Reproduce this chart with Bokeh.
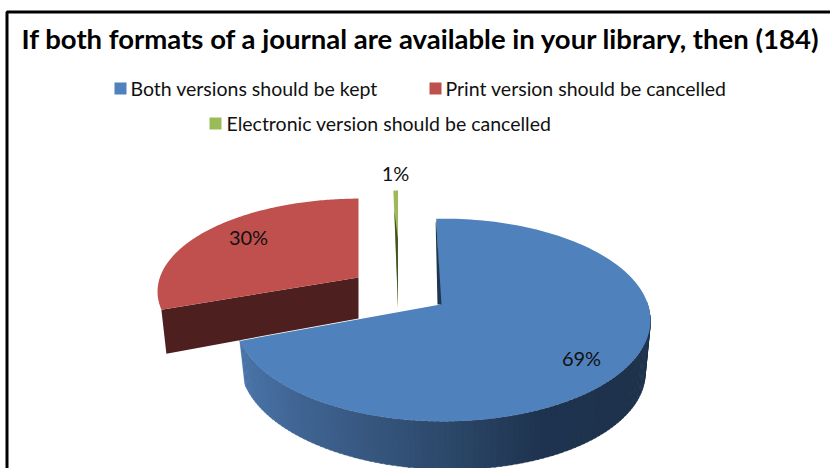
import numpy as np
from bokeh.plotting import figure
from bokeh.models import Range1d
from bokeh.core.properties import value
from bokeh.embed import file_html
from bokeh.resources import INLINE

# ---- data ----
title = "If both formats of a journal are available in your library, then (184)"
categories = ["Both versions should be kept", "Print version should be cancelled", "Electronic version should be cancelled"]
shares = [69, 30, 1]
top_colors = ["#4F81BD", "#C0504D", "#9BBB59"]
side_colors = ["#1F3550", "#4D1F1E", "#3F4F22"]

FONT = value("Lato")
k = 0.153

def project(theta, cx, cy, f, g):
    u, v = np.sin(theta), np.cos(theta)
    d = 1 + k * v - 0.012 * u
    return cx + f * u / d, cy - g * v / d

def arc(a0, a1, n=160):
    return np.radians(np.linspace(a0, a1, n))

p = figure(width=830, height=468, x_range=Range1d(0, 830), y_range=Range1d(468, 0),
           output_backend="svg", toolbar_location=None, min_border=0,
           x_axis_location=None, y_axis_location=None,
           outline_line_color=None, background_fill_color="white", border_fill_color="white")
p.grid.visible = False

# frame
p.line([6.5, 6.5, 830], [468, 11.5, 11.5], line_color="black", line_width=3)

# slice angles, clockwise from 12 o'clock
edges = np.cumsum([0] + shares) * 3.6

# ---- Blue: wall, inner sliver, top ----
bx, by, bf, bg = 440, 304, 205, 99
b0, b1 = edges[0] - 1.4, edges[1] + 1
steps = np.linspace(96, b1, 110)
stops_x = [240, 300, 443, 540, 650]
stops_r = [74, 64, 45, 31, 30]
stops_g = [116, 100, 73, 52, 50]
stops_b = [168, 146, 107, 80, 76]

def wall_pts(th):
    x_t, y_t = project(th, bx, by, bf, bg)
    x_b, y_b = project(th, bx, by + 48, bf * 0.975, bg)
    y_b = y_b + 4.5 * np.sin(th)
    return x_t, y_t, x_b, y_b

for a0, a1 in zip(steps[:-1], steps[1:]):
    th = arc(a0, a1 + 0.4, 5)
    x_t, y_t, x_b, y_b = wall_pts(th)
    xm = x_t.mean()
    col = "#%02x%02x%02x" % (int(np.interp(xm, stops_x, stops_r)), int(np.interp(xm, stops_x, stops_g)), int(np.interp(xm, stops_x, stops_b)))
    p.patch(np.r_[x_t, x_b[::-1]], np.r_[y_t, y_b[::-1]], fill_color=col, line_color=col, line_width=0.5)
th = arc(88, 97, 20)
x_t, y_t, x_b, y_b = wall_pts(th)
p.patch(np.r_[x_t, x_b[::-1]], np.r_[y_t, y_b[::-1]], fill_color=side_colors[0], line_color=None)

th = arc(b0, b1)
x, y = project(th, bx, by, bf, bg)
p.patch(np.r_[bx, x], np.r_[by, y], fill_color=top_colors[0], line_color=None)
x0, y0 = project(np.radians(b0), bx, by, bf, bg)
p.patch([x0, bx + 1, bx - 3, x0 - 0.5], [y0 + 2, by, by, y0 + 5], fill_color=side_colors[0], line_color=None)

# ---- Red ----
rx, ry, rf, rg = 358, 277, 201, 91
r0, r1 = edges[1] + 1.8, edges[2] + 3.6
th = arc(r0, r1)
x, y = project(th, rx, ry, rf, rg)
xl, yl = project(np.radians(r0), rx, ry, rf, rg)
p.patch([rx, xl, xl + 5, rx], [ry, yl, yl + 44, ry + 41], fill_color=side_colors[1], line_color=None)
p.patch(np.r_[rx, x], np.r_[ry, y], fill_color=top_colors[1], line_color=None)

# ---- Green ----
gx, gy, gf, gg = 397.5, 307, 85, 135
th = arc(edges[2], edges[3], 10)
x, y = project(th, gx, gy, gf, gg)
p.patch(np.r_[gx, x], np.r_[gy, y], fill_color=top_colors[2], line_color=None)
p.patch([gx, x[0] + 1, x[0] + 4.5], [gy, y[0] + 20, y[0] + 48], fill_color=side_colors[2], line_color=None)

# ---- text ----
p.text([21], [37.5], text=[title], text_font=FONT, text_font_style="bold", text_font_size="27.5px",
       text_color="black", text_baseline="middle")

swatch_x = [114, 429, 209]
swatch_y = [88, 88, 123]
text_x = [130, 445, 226]
for sx, sy, tx, name, col in zip(swatch_x, swatch_y, text_x, categories, top_colors):
    p.quad(left=[sx], right=[sx + 12], top=[sy - 6], bottom=[sy + 6], fill_color=col, line_color=None)
    p.text([tx], [sy - 0.5], text=[name], text_font=FONT, text_font_size="19.5px", text_color="#111111", text_baseline="middle")

label_x = [581, 248, 395]
label_y = [357.5, 236.5, 172]
p.text(label_x, label_y, text=["%d%%" % s for s in shares], text_font=FONT, text_font_size="20px",
       text_color="#111111", text_align="center", text_baseline="middle")

open("out.html", "w").write(file_html(p, INLINE))
